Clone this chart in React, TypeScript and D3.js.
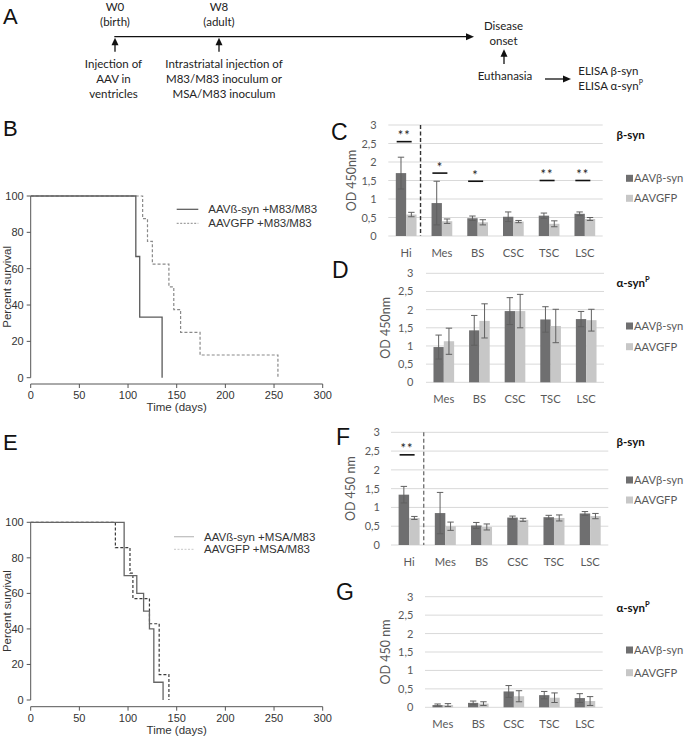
import React from "react";
import * as d3 from "d3";

// ---------- DATA ----------
const regions6 = ["Hi", "Mes", "BS", "CSC", "TSC", "LSC"];
const regions5 = ["Mes", "BS", "CSC", "TSC", "LSC"];
const odTicks = [0, 0.5, 1, 1.5, 2, 2.5, 3];
const odTickLabels = ["0", "0,5", "1", "1,5", "2", "2,5", "3"];
const survTicksY = [0, 20, 40, 60, 80, 100];
const survTicksX = [0, 50, 100, 150, 200, 250, 300];

// Panel C (beta-syn, M83/M83)
const cBsyn = [1.7, 0.89, 0.48, 0.52, 0.55, 0.6];
const cBsynErr = [0.43, 0.59, 0.06, 0.13, 0.07, 0.05];
const cGfp = [0.58, 0.4, 0.37, 0.39, 0.33, 0.46];
const cGfpErr = [0.06, 0.06, 0.07, 0.03, 0.08, 0.04];
const cSigCats = ["Hi", "Mes", "BS", "TSC", "LSC"];
const cSigLevel = [2.55, 1.7, 1.48, 1.5, 1.5];
const cSigStars = ["**", "*", "*", "**", "**"];

// Panel D (alpha-synP, M83/M83)
const dBsyn = [0.97, 1.43, 1.96, 1.73, 1.74];
const dBsynErr = [0.33, 0.41, 0.37, 0.35, 0.21];
const dGfp = [1.13, 1.69, 1.96, 1.55, 1.71];
const dGfpErr = [0.36, 0.47, 0.46, 0.46, 0.3];

// Panel F (beta-syn, MSA/M83)
const fBsyn = [1.34, 0.85, 0.52, 0.73, 0.74, 0.84];
const fBsynErr = [0.22, 0.55, 0.08, 0.04, 0.05, 0.05];
const fGfp = [0.72, 0.5, 0.48, 0.67, 0.72, 0.77];
const fGfpErr = [0.04, 0.11, 0.08, 0.04, 0.08, 0.07];
const fSigCats = ["Hi"];
const fSigLevel = [2.4];
const fSigStars = ["**"];

// Panel G (alpha-synP, MSA/M83)
const gBsyn = [0.06, 0.12, 0.43, 0.33, 0.25];
const gBsynErr = [0.03, 0.05, 0.16, 0.1, 0.12];
const gGfp = [0.06, 0.1, 0.3, 0.26, 0.17];
const gGfpErr = [0.04, 0.05, 0.15, 0.13, 0.12];

// Panel B survival (M83/M83)
const bSynTimes = [0, 108, 112, 135];
const bSynSurv = [100, 66.7, 33.3, 0];
const bGfpTimes = [0, 115, 120, 125, 142, 147, 154, 174, 254];
const bGfpSurv = [100, 87.5, 75, 62.5, 50, 37.5, 25, 12.5, 0];

// Panel E survival (MSA/M83)
const eSynTimes = [0, 96, 109, 116, 122, 126.5, 136];
const eSynSurv = [100, 70, 60, 50, 40, 10, 0];
const eGfpTimes = [0, 87, 102, 105, 122, 132, 142];
const eGfpSurv = [100, 85.7, 71.4, 57.1, 42.9, 14.3, 0];

// ---------- STYLE ----------
const DARK = "#6f6f70";
const LIGHT = "#c7c7c7";
const GRID = "#d9d9d9";
const TXT = "#595959";
const CAL = "Lato, 'Open Sans', sans-serif";
const ARIAL = "'Liberation Sans', Arial, sans-serif";

type BarProps = {
  cats: string[];
  dark: number[];
  darkErr: number[];
  light: number[];
  lightErr: number[];
  x0: number;
  x1: number;
  y0: number;
  y3: number;
  tickX: number;
  ylabX: number;
  ylab: string;
  letter: string;
  letterX: number;
  letterY: number;
  title: string;
  superP: boolean;
  titleY: number;
  legY1: number;
  legY2: number;
  sigCats?: string[];
  sigLevel?: number[];
  sigStars?: string[];
  divider?: string;
  dividerColor?: string;
};

function BarPanel(p: BarProps) {
  const x = d3
    .scaleBand<string>()
    .domain(p.cats)
    .range([p.x0, p.x1])
    .paddingInner(0.42)
    .paddingOuter(0.21);
  const xi = d3.scaleBand<string>().domain(["d", "l"]).range([0, x.bandwidth()]);
  const y = d3.scaleLinear().domain([0, 3]).range([p.y0, p.y3]);
  const step = x.step();
  const cap = 3.2;
  const errBar = (cx: number, v: number, e: number, key: string) => (
    <g key={key} stroke="#606060" strokeWidth={1}>
      <line x1={cx} x2={cx} y1={y(v - e)} y2={y(v + e)} />
      <line x1={cx - cap} x2={cx + cap} y1={y(v + e)} y2={y(v + e)} />
      <line x1={cx - cap} x2={cx + cap} y1={y(v - e)} y2={y(v - e)} />
    </g>
  );
  const catCenter = (c: string) => (x(c) as number) + x.bandwidth() / 2;
  return (
    <g>
      <text x={p.letterX} y={p.letterY} fontFamily={ARIAL} fontSize={23} fill="#111">
        {p.letter}
      </text>
      {odTicks.map((t, i) => (
        <g key={"g" + i}>
          <line x1={p.x0} x2={p.x1} y1={y(t)} y2={y(t)} stroke={GRID} strokeWidth={1} />
          <text
            x={p.tickX}
            y={y(t) + 4}
            textAnchor="end"
            fontFamily={CAL}
            fontSize={11}
            fill={TXT}
          >
            {odTickLabels[i]}
          </text>
        </g>
      ))}
      <text
        transform={`translate(${p.ylabX},${(p.y0 + p.y3) / 2}) rotate(-90)`}
        textAnchor="middle"
        dominantBaseline="middle"
        fontFamily={CAL}
        fontSize={12.5}
        fill={TXT}
      >
        {p.ylab}
      </text>
      {p.cats.map((c, i) => {
        const bx = x(c) as number;
        const w = xi.bandwidth();
        return (
          <g key={c}>
            <rect x={bx + (xi("d") as number)} y={y(p.dark[i])} width={w} height={y(0) - y(p.dark[i])} fill={DARK} />
            <rect x={bx + (xi("l") as number)} y={y(p.light[i])} width={w} height={y(0) - y(p.light[i])} fill={LIGHT} />
            {errBar(bx + (xi("d") as number) + w / 2, p.dark[i], p.darkErr[i], "ed")}
            {errBar(bx + (xi("l") as number) + w / 2, p.light[i], p.lightErr[i], "el")}
            <text
              x={catCenter(c)}
              y={p.y0 + 21}
              textAnchor="middle"
              fontFamily={CAL}
              fontSize={11.2}
              fill={TXT}
            >
              {c}
            </text>
          </g>
        );
      })}
      {p.divider && (
        <line
          x1={(x(p.divider) as number) - step * 0.21 - 3.5}
          x2={(x(p.divider) as number) - step * 0.21 - 3.5}
          y1={y(3)}
          y2={y(0)}
          stroke={p.dividerColor || "#333"}
          strokeWidth={1.4}
          strokeDasharray="4,2.5"
        />
      )}
      {p.sigCats &&
        p.sigCats.map((c, i) => {
          const cx = catCenter(c) - 2;
          const ly = y(p.sigLevel![i]);
          return (
            <g key={"s" + i}>
              <line x1={cx - 7.5} x2={cx + 7.5} y1={ly} y2={ly} stroke="#111" strokeWidth={1.6} />
              <text
                x={cx}
                y={ly - 1.5}
                textAnchor="middle"
                fontFamily={CAL}
                fontSize={13}
                fill="#222"
                letterSpacing={1}
              >
                {p.sigStars![i]}
              </text>
            </g>
          );
        })}
      <text x={616.5} y={p.titleY} fontFamily={CAL} fontWeight="bold" fontSize={11.5} fill="#111">
        {p.title}
        {p.superP && (
          <tspan fontSize={7.5} dy={-5}>
            P
          </tspan>
        )}
      </text>
      <rect x={626} y={p.legY1 - 3.5} width={7} height={7} fill={DARK} />
      <text x={634} y={p.legY1 + 4} fontFamily={CAL} fontSize={11.2} fill={TXT}>
        AAVβ-syn
      </text>
      <rect x={626} y={p.legY2 - 3.5} width={7} height={7} fill={LIGHT} />
      <text x={634} y={p.legY2 + 4} fontFamily={CAL} fontSize={11.2} fill={TXT}>
        AAVGFP
      </text>
    </g>
  );
}

type SurvProps = {
  letter: string;
  letterY: number;
  yTop: number;
  yBot: number;
  axisY: number;
  synT: number[];
  synS: number[];
  gfpT: number[];
  gfpS: number[];
  synColor: string;
  gfpColor: string;
  legSynColor: string;
  legGfpColor: string;
  legX0: number;
  legX1: number;
  legTextX: number;
  legY1: number;
  legY2: number;
  legText1: string;
  legText2: string;
};

function SurvPanel(p: SurvProps) {
  const x = d3.scaleLinear().domain([0, 300]).range([30.7, 322.7]);
  const y = d3.scaleLinear().domain([0, 100]).range([p.yBot, p.yTop]);
  const line = d3
    .line<[number, number]>()
    .x((d) => x(d[0]))
    .y((d) => y(d[1]))
    .curve(d3.curveStepAfter);
  const synPts = p.synT.map((t, i) => [t, p.synS[i]] as [number, number]);
  const gfpPts = p.gfpT.map((t, i) => [t, p.gfpS[i]] as [number, number]);
  return (
    <g>
      <text x={3} y={p.letterY} fontFamily={ARIAL} fontSize={22} fill="#111">
        {p.letter}
      </text>
      <line x1={x(0)} x2={x(0)} y1={y(0)} y2={y(100)} stroke="#555" strokeWidth={1} />
      {survTicksY.map((t) => (
        <g key={"y" + t}>
          <line x1={x(0) - 4} x2={x(0)} y1={y(t)} y2={y(t)} stroke="#555" strokeWidth={1} />
          <text x={x(0) - 7} y={y(t) + 4} textAnchor="end" fontFamily={ARIAL} fontSize={11} fill="#333">
            {t}
          </text>
        </g>
      ))}
      <line x1={x(0)} x2={x(300)} y1={p.axisY} y2={p.axisY} stroke="#555" strokeWidth={1} />
      {survTicksX.map((t) => (
        <g key={"x" + t}>
          <line x1={x(t)} x2={x(t)} y1={p.axisY} y2={p.axisY + 4} stroke="#555" strokeWidth={1} />
          <text x={x(t)} y={p.axisY + 15} textAnchor="middle" fontFamily={ARIAL} fontSize={11} fill="#333">
            {t}
          </text>
        </g>
      ))}
      <text x={x(150)} y={p.axisY + 27} textAnchor="middle" fontFamily={ARIAL} fontSize={11.5} fill="#333">
        Time (days)
      </text>
      <text
        transform={`translate(10.5,${(p.yTop + p.yBot) / 2}) rotate(-90)`}
        textAnchor="middle"
        fontFamily={ARIAL}
        fontSize={11.5}
        fill="#333"
      >
        Percent survival
      </text>
      <path d={line(gfpPts) || ""} fill="none" stroke={p.gfpColor} strokeWidth={1.2} strokeDasharray="3,2" />
      <path d={line(synPts) || ""} fill="none" stroke={p.synColor} strokeWidth={1.3} />
      <line x1={p.legX0} x2={p.legX1} y1={p.legY1} y2={p.legY1} stroke={p.legSynColor} strokeWidth={1.2} />
      <line
        x1={p.legX0}
        x2={p.legX1}
        y1={p.legY2}
        y2={p.legY2}
        stroke={p.legGfpColor}
        strokeWidth={1}
        strokeDasharray="2,1.5"
      />
      <text x={p.legTextX} y={p.legY1 + 4} fontFamily={ARIAL} fontSize={11.5} fill="#333">
        {p.legText1}
      </text>
      <text x={p.legTextX} y={p.legY2 + 4} fontFamily={ARIAL} fontSize={11.5} fill="#333">
        {p.legText2}
      </text>
    </g>
  );
}

function UpArrow({ x, y1, y2 }: { x: number; y1: number; y2: number }) {
  return (
    <g>
      <line x1={x} x2={x} y1={y1} y2={y2 + 6} stroke="#111" strokeWidth={1.3} />
      <polygon points={`${x},${y2} ${x - 3.5},${y2 + 7.5} ${x + 3.5},${y2 + 7.5}`} fill="#111" />
    </g>
  );
}

function RightArrow({ x1, x2, y }: { x1: number; x2: number; y: number }) {
  return (
    <g>
      <line x1={x1} x2={x2 - 6} y1={y} y2={y} stroke="#111" strokeWidth={1.3} />
      <polygon points={`${x2},${y} ${x2 - 8},${y - 3.5} ${x2 - 8},${y + 3.5}`} fill="#111" />
    </g>
  );
}

function PanelA() {
  const t = { fontFamily: CAL, fontSize: 11.5, fill: "#222", textAnchor: "middle" as const };
  return (
    <g>
      <text x={3} y={24} fontFamily={ARIAL} fontSize={22} fill="#111">
        A
      </text>
      <text x={115} y={10.5} {...t}>W0</text>
      <text x={115} y={26} {...t}>(birth)</text>
      <text x={219} y={10.5} {...t}>W8</text>
      <text x={219} y={26} {...t}>(adult)</text>
      <RightArrow x1={114.3} x2={474} y={36.7} />
      <UpArrow x={115} y1={51.7} y2={37.7} />
      <UpArrow x={219} y1={51.7} y2={37.7} />
      <text x={113.5} y={68} {...t}>Injection of</text>
      <text x={113.5} y={83} {...t}>AAV in</text>
      <text x={113.5} y={98} {...t}>ventricles</text>
      <text x={224} y={68} {...t}>Intrastriatal injection of</text>
      <text x={224} y={83} {...t}>M83/M83 inoculum or</text>
      <text x={224} y={98} {...t}>MSA/M83 inoculum</text>
      <text x={503.5} y={29.5} {...t}>Disease</text>
      <text x={503.5} y={45} {...t}>onset</text>
      <UpArrow x={504} y1={64} y2={49.3} />
      <text x={505} y={80} {...t}>Euthanasia</text>
      <RightArrow x1={545} x2={571} y={79} />
      <text x={578.3} y={75} fontFamily={CAL} fontSize={11.5} fill="#222">
        ELISA β-syn
      </text>
      <text x={578.3} y={90} fontFamily={CAL} fontSize={11.5} fill="#222">
        ELISA α-syn
        <tspan fontSize={7} dy={-5}>
          P
        </tspan>
      </text>
    </g>
  );
}

export default function App() {
  return (
    <svg
      width={685}
      height={736}
      viewBox="0 0 685 736"
      style={{ position: "absolute", left: 0, top: 0, background: "#fff" }}
    >
      <rect width={685} height={736} fill="#fff" />
      <PanelA />
      <SurvPanel
        letter="B"
        letterY={136}
        yTop={196}
        yBot={377.7}
        axisY={384}
        synT={bSynTimes}
        synS={bSynSurv}
        gfpT={bGfpTimes}
        gfpS={bGfpSurv}
        synColor="#5a5a5a"
        gfpColor="#8a8a8a"
        legSynColor="#555"
        legGfpColor="#888"
        legX0={176.7}
        legX1={198.3}
        legTextX={208.3}
        legY1={209.3}
        legY2={223.3}
        legText1="AAVß-syn +M83/M83"
        legText2="AAVGFP +M83/M83"
      />
      <SurvPanel
        letter="E"
        letterY={450}
        yTop={522.3}
        yBot={700}
        axisY={706.7}
        synT={eSynTimes}
        synS={eSynSurv}
        gfpT={eGfpTimes}
        gfpS={eGfpSurv}
        synColor="#666"
        gfpColor="#3a3a3a"
        legSynColor="#bdbdbd"
        legGfpColor="#c8c8c8"
        legX0={174}
        legX1={194}
        legTextX={204}
        legY1={536.7}
        legY2={549.3}
        legText1="AAVß-syn +MSA/M83"
        legText2="AAVGFP +MSA/M83"
      />
      <BarPanel
        cats={regions6}
        dark={cBsyn}
        darkErr={cBsynErr}
        light={cGfp}
        lightErr={cGfpErr}
        x0={388.3}
        x1={602.7}
        y0={236}
        y3={125}
        tickX={376.7}
        ylabX={353}
        ylab="OD 450nm"
        letter="C"
        letterX={331}
        letterY={140}
        title="β-syn"
        superP={false}
        titleY={139}
        legY1={178.3}
        legY2={198.3}
        sigCats={cSigCats}
        sigLevel={cSigLevel}
        sigStars={cSigStars}
        divider="Mes"
        dividerColor="#333"
      />
      <BarPanel
        cats={regions5}
        dark={dBsyn}
        darkErr={dBsynErr}
        light={dGfp}
        lightErr={dGfpErr}
        x0={426}
        x1={604}
        y0={382.3}
        y3={273.3}
        tickX={413.3}
        ylabX={386.7}
        ylab="OD 450nm"
        letter="D"
        letterX={332}
        letterY={278}
        title="α-syn"
        superP={true}
        titleY={287}
        legY1={326}
        legY2={346.7}
      />
      <BarPanel
        cats={regions6}
        dark={fBsyn}
        darkErr={fBsynErr}
        light={fGfp}
        lightErr={fGfpErr}
        x0={391}
        x1={608.3}
        y0={545}
        y3={432.3}
        tickX={380}
        ylabX={351.7}
        ylab="OD 450 nm"
        letter="F"
        letterX={336}
        letterY={445}
        title="β-syn"
        superP={false}
        titleY={446}
        legY1={480}
        legY2={500}
        sigCats={fSigCats}
        sigLevel={fSigLevel}
        sigStars={fSigStars}
        divider="Mes"
        dividerColor="#777"
      />
      <BarPanel
        cats={regions5}
        dark={gBsyn}
        darkErr={gBsynErr}
        light={gGfp}
        lightErr={gGfpErr}
        x0={425}
        x1={602.7}
        y0={707.3}
        y3={596.7}
        tickX={413.3}
        ylabX={386.7}
        ylab="OD 450 nm"
        letter="G"
        letterX={336}
        letterY={600}
        title="α-syn"
        superP={true}
        titleY={612}
        legY1={650}
        legY2={672.7}
      />
    </svg>
  );
}
